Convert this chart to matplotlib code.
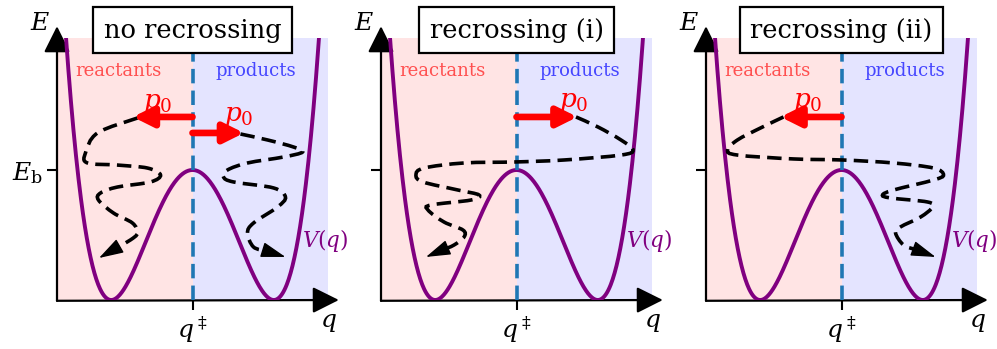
import numpy as np
import matplotlib
matplotlib.use("Agg")
import matplotlib.pyplot as plt
from matplotlib.path import Path
from matplotlib.patches import PathPatch

plt.rcParams['font.family'] = 'DejaVu Serif'
plt.rcParams['mathtext.fontset'] = 'dejavuserif'

# panel titles
titles = ["no recrossing", "recrossing (i)", "recrossing (ii)"]

# double well V(q) = Eb * (1 - (q/a)^2)^2
E_b = 1.0
q_min = 0.6
q_edge = 0.935

# initial momentum arrows per panel: (tail q, tail E, length in q), label pos
p0_arrows = [
    [(0.0, 1.408, -0.44), (0.0, 1.285, 0.38)],
    [(0.0, 1.408, 0.45)],
    [(0.0, 1.408, -0.45)],
]
p0_labels = [
    [(-0.26, 1.52), (0.34, 1.42)],
    [(0.42, 1.53)],
    [(-0.25, 1.53)],
]

# hand-traced trajectories (q, E) per panel
traj = [
    [
        ([-0.406, -0.701, -0.790, -0.775, -0.554, -0.332, -0.236, -0.310, -0.554, -0.679,
          -0.694, -0.583, -0.443, -0.406, -0.458, -0.690],
         [1.40, 1.285, 1.131, 1.054, 1.038, 1.015, 0.962, 0.908, 0.869, 0.823,
          0.769, 0.669, 0.592, 0.515, 0.462, 0.323]),
        ([0.354, 0.554, 0.745, 0.812, 0.672, 0.406, 0.258, 0.229, 0.303, 0.598,
          0.686, 0.627, 0.450, 0.406, 0.450, 0.686],
         [1.277, 1.231, 1.177, 1.138, 1.100, 1.054, 1.0, 0.946, 0.908, 0.862,
          0.792, 0.715, 0.592, 0.515, 0.408, 0.331]),
    ],
    [
        ([0.439, 0.601, 0.771, 0.860, 0.771, 0.351, -0.004, -0.387, -0.683, -0.742,
          -0.690, -0.432, -0.277, -0.336, -0.631, -0.653, -0.535, -0.395, -0.387,
          -0.461, -0.668],
         [1.408, 1.331, 1.231, 1.154, 1.115, 1.077, 1.062, 1.054, 1.015, 0.962,
          0.908, 0.846, 0.808, 0.769, 0.731, 0.692, 0.600, 0.538, 0.485, 0.423, 0.331]),
    ],
    [
        ([-0.428, -0.598, -0.768, -0.841, -0.768, -0.354, 0.007, 0.384, 0.679, 0.753,
          0.679, 0.384, 0.303, 0.362, 0.635, 0.672, 0.583, 0.435, 0.399, 0.458, 0.694],
         [1.408, 1.323, 1.231, 1.154, 1.115, 1.085, 1.077, 1.054, 1.015, 0.962,
          0.923, 0.846, 0.808, 0.785, 0.754, 0.715, 0.638, 0.562, 0.515, 0.423, 0.331]),
    ],
]


def smooth_path(qs, es):
    pts = np.column_stack([qs, es])
    verts = [pts[0]]
    codes = [Path.MOVETO]
    n = len(pts)
    for i in range(n - 1):
        a = pts[i - 1] if i > 0 else pts[i]
        b = pts[i]
        c = pts[i + 1]
        d = pts[i + 2] if i + 2 < n else pts[i + 1]
        verts += [b + (c - a) / 6, c - (d - b) / 6, c]
        codes += [Path.CURVE4] * 3
    return Path(verts, codes)


fig = plt.figure(figsize=(9.97, 3.49), dpi=100)
lefts = [57 / 997, 381 / 997, 706 / 997]
w, b, h = 271 / 997, 49 / 349, 262 / 349

q = np.linspace(-q_edge, q_edge, 400)
V = E_b * (1 - (q / q_min) ** 2) ** 2

axis_arrow = dict(arrowstyle='-|>,head_length=0.9,head_width=0.45',
                  color='k', lw=1.6, mutation_scale=18, shrinkA=0, shrinkB=0)

for k in range(3):
    ax = fig.add_axes([lefts[k], b, w, h])
    ax.set_xlim(-1, 1)
    ax.set_ylim(0, 262 / 130)
    for s in ax.spines.values():
        s.set_visible(False)
    ax.axvspan(-1, 0, color='#ffe4e4', lw=0, zorder=0)
    ax.axvspan(0, 1, color='#e4e4ff', lw=0, zorder=0)

    # axes with arrow heads
    ax.annotate('', xy=(1.04, 0), xytext=(0, -0.003), xycoords='axes fraction',
                arrowprops=axis_arrow)
    ax.annotate('', xy=(0, 1.045), xytext=(0, -0.003), xycoords='axes fraction',
                arrowprops=axis_arrow)

    ax.set_xticks([0])
    ax.set_xticklabels([r'$q^\ddagger$'], fontsize=18)
    ax.set_yticks([E_b])
    ax.set_yticklabels([r'$E_\mathrm{b}$' if k == 0 else ''], fontsize=18)
    ax.tick_params(length=7, width=1.5, pad=3)

    ax.text(-0.063, 1.055, r'$E$', transform=ax.transAxes, fontsize=18, ha='center', va='center')
    ax.text(1.0, -0.085, r'$q$', transform=ax.transAxes, fontsize=18, ha='center', va='center')

    ax.plot(q, V, color='purple', lw=2.8, zorder=3)
    ax.axvline(0, color='#1f77b4', lw=2.6, ls=(0, (4, 2)), zorder=4)

    ax.text(-0.55, 1.765, 'reactants', color='#ff5050', fontsize=13, ha='center', va='center')
    ax.text(0.47, 1.765, 'products', color='#4646ff', fontsize=13, ha='center', va='center')
    ax.text(0.81, 0.46, r'$V(q)$', color='purple', fontsize=15.5, ha='left', va='center',
            clip_on=False)

    for (q0, e0, dq) in p0_arrows[k]:
        ax.annotate('', xy=(q0 + dq, e0), xytext=(q0, e0),
                    arrowprops=dict(arrowstyle='-|>,head_length=0.7,head_width=0.35',
                                    color='red', lw=4.8, mutation_scale=17,
                                    shrinkA=0, shrinkB=0), zorder=6)
    for (lx, ly) in p0_labels[k]:
        ax.text(lx, ly, r'$p_0$', color='red', fontsize=19, ha='center', va='center')

    for qs, es in traj[k]:
        # dashed body stops short of the tip, solid head on the last step
        ax.add_patch(PathPatch(smooth_path(qs[:-1] + [qs[-1] - 0.6 * (qs[-1] - qs[-2])],
                                           es[:-1] + [es[-1] - 0.6 * (es[-1] - es[-2])]),
                               fill=False, ec='k', lw=2.6, ls=(0, (4, 2)), zorder=5))
        d = np.array([qs[-1] - qs[-2], es[-1] - es[-2]])
        d = d / np.hypot(*d) * 0.03
        ax.annotate('', xy=(qs[-1], es[-1]), xytext=(qs[-1] - d[0], es[-1] - d[1]),
                    arrowprops=dict(arrowstyle='-|>,head_length=0.9,head_width=0.28',
                                    color='k', lw=1, mutation_scale=17,
                                    shrinkA=0, shrinkB=0), zorder=5)

    ax.text(0.5, 1.0305, titles[k], transform=ax.transAxes, fontsize=18.5,
            ha='center', va='center', zorder=10,
            bbox=dict(boxstyle='square,pad=0.42', fc='white', ec='k', lw=1.6))

fig.savefig('out.png', dpi=100)
